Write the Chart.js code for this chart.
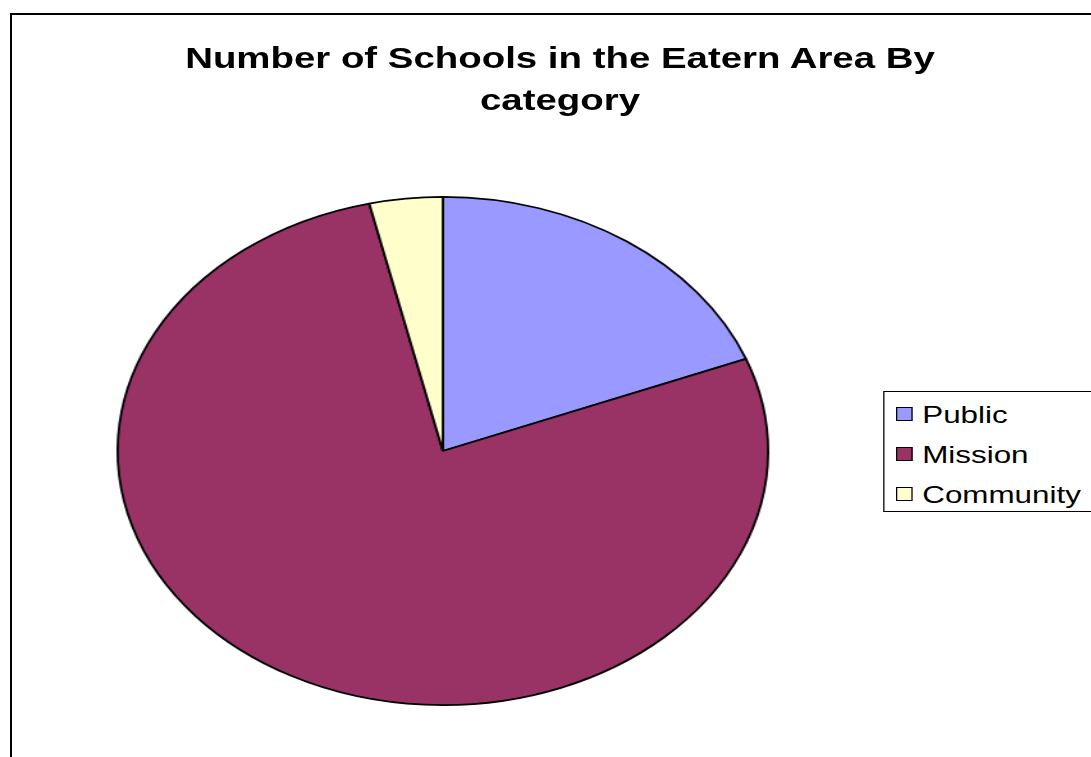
<!DOCTYPE html>
<html>
<head>
<meta charset="utf-8">
<title>Number of Schools in the Eatern Area By category</title>
<script src="https://cdn.jsdelivr.net/npm/chart.js@4/dist/chart.umd.min.js"></script>
<style>
  html, body { margin: 0; padding: 0; background: #FFFFFF; overflow: hidden; }
  body { width: 1091px; height: 757px; position: relative; }
  #frame {
    position: absolute; left: 10px; top: 13px; width: 2000px; height: 2000px;
    border-left: 2px solid #000000; border-top: 2px solid #000000;
  }
  /* whole chart is laid out narrow, then stretched sideways */
  #sheet {
    position: absolute; left: 0; top: 0; width: 852px; height: 757px;
    transform: scaleX(1.28); transform-origin: 0 0;
    font-family: "Liberation Sans", Arial, sans-serif; color: #000000;
  }
  #chartTitle {
    position: absolute; left: 0; top: 37px; width: 875px;
    text-align: center; font-weight: bold; font-size: 30px; line-height: 42px;
  }
  #pie { position: absolute; left: 0; top: 0; }
  #legend {
    position: absolute; left: 690px; top: 391px; width: 300px; height: 121px;
    border: 1.5px solid #000000; padding: 2.5px 0 0 8.5px; box-sizing: border-box;
    font-size: 24.5px; line-height: 40px; white-space: nowrap; background: #FFFFFF;
  }
  .swatch {
    display: inline-block; width: 13px; height: 13.5px; box-sizing: border-box;
    border: 1px solid #000000; margin-right: 8px; vertical-align: 1.6px;
  }
</style>
</head>
<body>
<div id="frame"></div>
<div id="sheet">
  <div id="chartTitle"></div>
  <canvas id="pie" width="692" height="757"></canvas>
  <div id="legend"></div>
</div>
<script>
const titleLines = ['Number of Schools in the Eatern Area By', 'category'];
const categories = ['Public', 'Mission', 'Community'];
const schoolCounts = [21, 85, 4];
const sliceColors = ['#9999FF', '#993366', '#FFFFCC'];

document.getElementById('chartTitle').innerHTML = titleLines.join('<br>');

// legend rows, one per category
const legend = document.getElementById('legend');
categories.forEach((name, i) => {
  const row = document.createElement('div');
  const swatch = document.createElement('span');
  swatch.className = 'swatch';
  swatch.style.background = sliceColors[i];
  row.appendChild(swatch);
  row.appendChild(document.createTextNode(name));
  legend.appendChild(row);
});

new Chart(document.getElementById('pie'), {
  type: 'pie',
  data: {
    labels: categories,
    datasets: [{
      data: schoolCounts,
      backgroundColor: sliceColors,
      borderColor: '#000000',
      borderWidth: 1.8
    }]
  },
  options: {
    responsive: false,
    animation: false,
    devicePixelRatio: 1,
    events: [],
    layout: { padding: { top: 196, bottom: 51, left: 0, right: 0 } },
    plugins: {
      legend: { display: false },
      title: { display: false },
      tooltip: { enabled: false }
    }
  }
});
</script>
</body>
</html>
